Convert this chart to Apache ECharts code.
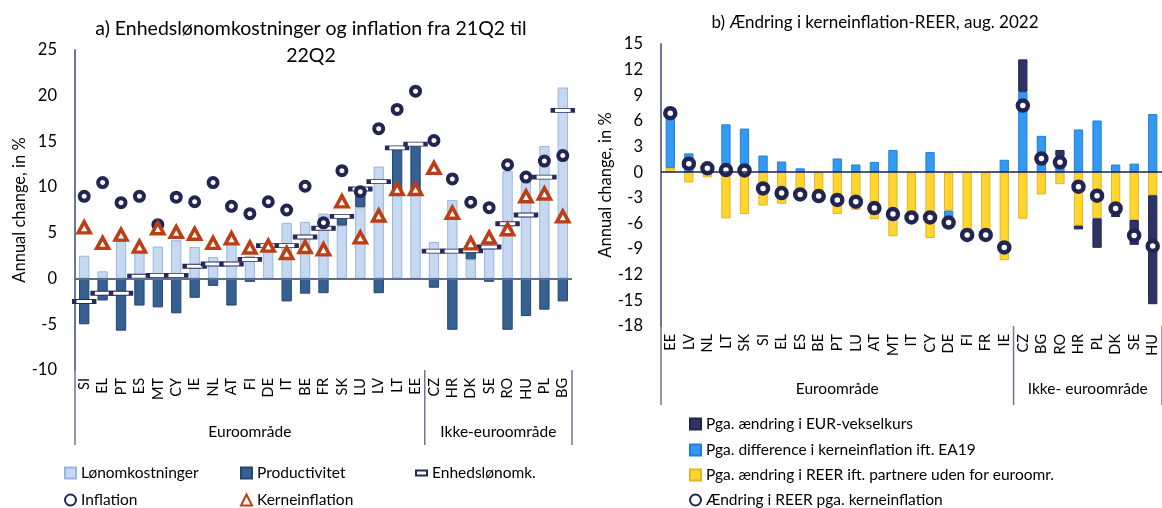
<!DOCTYPE html>
<html>
<head>
<meta charset="utf-8">
<script src="https://cdn.jsdelivr.net/npm/echarts@6/dist/echarts.min.js"></script>
<style>
  html, body { margin: 0; padding: 0; background: #fff; }
  #chart { width: 1162px; height: 508px; }
</style>
</head>
<body>
<div id="chart"></div>
<script>
// a) Enhedslønomkostninger og inflation
const landeA = ['SI','EL','PT','ES','MT','CY','IE','NL','AT','FI','DE','IT','BE','FR','SK','LU','LV','LT','EE','CZ','HR','DK','SE','RO','HU','PL','BG'];
const loen   = [2.5, 0.8, 4.1, 3.2, 3.5, 4.2, 3.45, 2.35, 4.55, 2.45, 3.7, 6.1, 6.2, 7.1, 5.8, 7.8, 12.25, 9.5, 9.5, 4.0, 8.6, 2.1, 3.8, 11.75, 11.05, 14.5, 20.9];
const prod   = [-5.0, -2.4, -5.7, -2.95, -3.15, -3.8, -2.1, -0.8, -2.95, -0.36, -0.1, -2.5, -1.65, -1.6, 1.0, 2.0, -1.6, 4.8, 5.2, -1.0, -5.6, 0.9, -0.35, -5.6, -4.1, -3.4, -2.5];
const enheds = [-2.5, -1.6, -1.6, 0.25, 0.35, 0.35, 1.35, 1.6, 1.6, 2.1, 3.6, 3.6, 4.55, 5.5, 6.8, 9.8, 10.6, 14.3, 14.7, 3.0, 3.0, 3.05, 3.45, 6.0, 6.95, 11.1, 18.4];
const infl   = [9.0, 10.5, 8.3, 9.0, 5.9, 8.9, 8.4, 10.5, 7.9, 7.1, 8.4, 7.5, 10.1, 6.1, 11.8, 9.5, 16.4, 18.5, 20.5, 15.1, 10.9, 8.35, 7.75, 12.45, 11.1, 12.85, 13.45];
const kerne  = [5.6, 3.9, 4.8, 3.5, 5.5, 5.1, 4.9, 3.9, 4.4, 3.4, 3.6, 2.8, 3.45, 3.2, 8.45, 4.5, 6.9, 9.8, 9.8, 12.1, 7.2, 3.85, 4.5, 5.4, 9.0, 9.3, 6.8];
const antalEuroA = 19;

// b) Ændring i kerneinflation-REER
const landeB = ['EE','LV','NL','LT','SK','SI','EL','ES','BE','PT','LU','AT','MT','IT','CY','DE','FI','FR','IE','CZ','BG','RO','HR','PL','DK','SE','HU'];
const reer   = [0.5, -1.2, -0.6, -5.4, -4.9, -3.9, -3.7, -3.1, -2.8, -4.9, -4.4, -5.5, -7.5, -5.3, -7.7, -4.5, -7.35, -7.35, -10.3, -5.45, -2.6, -1.4, -6.25, -5.4, -4.95, -5.6, -2.7];
const kerneDiff = [6.4, 2.2, 1.0, 5.6, 5.1, 1.95, 1.25, 0.45, null, 1.6, 0.9, 1.2, 2.6, null, 2.35, -1.4, null, null, 1.45, 9.4, 4.25, 1.9, 5.0, 6.05, 0.9, 1.0, 6.8];
const eurKurs = [null, null, null, null, null, null, null, null, null, null, null, null, null, null, null, null, null, null, null, 3.8, null, 0.7, -0.45, -3.45, -0.3, -2.9, -12.75];
const reerTotal = [6.9, 1.0, 0.45, 0.25, 0.2, -1.9, -2.45, -2.6, -2.8, -3.25, -3.45, -4.2, -4.9, -5.3, -5.3, -5.9, -7.35, -7.35, -8.8, 7.8, 1.6, 1.15, -1.7, -2.75, -4.25, -7.4, -8.65];
const antalEuroB = 19;

const font = 'Lato';
const chart = echarts.init(document.getElementById('chart'));

function legendItem(name, left, top, extra) {
  return Object.assign({
    data: [name], left: left, top: top, padding: 0,
    itemWidth: 11, itemHeight: 11, itemGap: 4,
    selectedMode: false,
    textStyle: { fontSize: 15.5, color: '#000', fontFamily: font }
  }, extra || {});
}

const option = {
  animation: false,
  textStyle: { fontFamily: font },
  title: [
    { text: 'a) Enhedslønomkostninger og inflation fra 21Q2 til\n22Q2', left: 306, top: 10, textAlign: 'center',
      textStyle: { fontSize: 19.5, fontWeight: 'normal', color: '#000', fontFamily: font, lineHeight: 27 } },
    { text: 'b) Ændring i kerneinflation-REER, aug. 2022', left: 870, top: 9, textAlign: 'center',
      textStyle: { fontSize: 17, fontWeight: 'normal', color: '#000', fontFamily: font } }
  ],
  grid: [
    { left: 75, top: 50, width: 497, height: 320 },
    { left: 661, top: 44, width: 504, height: 282 }
  ],
  xAxis: [
    { gridIndex: 0, type: 'category', data: landeA, axisLine: { show: false }, axisTick: { show: false },
      axisLabel: { rotate: 90, interval: 0, fontSize: 14.5, color: '#000', margin: 8 } },
    { gridIndex: 1, type: 'category', data: landeB, axisLine: { show: false }, axisTick: { show: false },
      axisLabel: { rotate: 90, interval: 0, fontSize: 14.5, color: '#000', margin: 8 } }
  ],
  yAxis: [
    { gridIndex: 0, type: 'value', min: -10, max: 25, interval: 5,
      axisLine: { show: true, lineStyle: { color: '#6f7596', width: 2 } }, axisTick: { show: false }, splitLine: { show: false },
      axisLabel: { fontSize: 16.5, color: '#000', margin: 18 },
      name: 'Annual change, in %', nameLocation: 'middle', nameGap: 46, nameTextStyle: { fontSize: 16.5, color: '#000' } },
    { gridIndex: 1, type: 'value', min: -18, max: 15, interval: 3,
      axisLine: { show: true, lineStyle: { color: '#6f7596', width: 2 } }, axisTick: { show: false }, splitLine: { show: false },
      axisLabel: { fontSize: 16.5, color: '#000', margin: 18 },
      name: 'Annual change, in %', nameLocation: 'middle', nameGap: 40, nameTextStyle: { fontSize: 16.5, color: '#000' } }
  ],
  legend: [
    legendItem('Lønomkostninger', 64, 465, { icon: 'rect' }),
    legendItem('Productivitet', 240, 465, { icon: 'rect' }),
    legendItem('Enhedslønomk.', 415, 465, { itemHeight: 5 }),
    legendItem('Inflation', 64, 492),
    legendItem('Kerneinflation', 240, 492),
    legendItem('Pga. ændring i EUR-vekselkurs', 689, 416, { icon: 'rect' }),
    legendItem('Pga. difference i kerneinflation ift. EA19', 689, 442, { icon: 'rect' }),
    legendItem('Pga. ændring i REER ift. partnere uden for euroomr.', 689, 467, { icon: 'rect' }),
    legendItem('Ændring i REER pga. kerneinflation', 689, 492)
  ],
  series: [
    { name: 'Lønomkostninger', type: 'bar', xAxisIndex: 0, yAxisIndex: 0, stack: 'a', data: loen, barWidth: '56%',
      itemStyle: { color: '#c6d9f1', borderColor: '#95b7e0', borderWidth: 1 },
      markLine: { silent: true, symbol: 'none', label: { show: false }, lineStyle: { color: '#57708f', width: 2, type: 'solid' }, data: [{ yAxis: 0 }] } },
    { name: 'Productivitet', type: 'bar', xAxisIndex: 0, yAxisIndex: 0, stack: 'a', data: prod, barWidth: '56%',
      itemStyle: { color: '#366092', borderColor: '#25456e', borderWidth: 1 } },
    { name: 'Enhedslønomk.', type: 'scatter', xAxisIndex: 0, yAxisIndex: 0, data: enheds, symbol: 'rect', symbolSize: [20, 4], z: 3,
      itemStyle: { color: '#fff', borderColor: '#24285a', borderWidth: 2, opacity: 1 } },
    { name: 'Inflation', type: 'scatter', xAxisIndex: 0, yAxisIndex: 0, data: infl, symbol: 'circle', symbolSize: 9, z: 4,
      itemStyle: { color: '#fff', borderColor: '#222552', borderWidth: 4, opacity: 1 } },
    { name: 'Kerneinflation', type: 'scatter', xAxisIndex: 0, yAxisIndex: 0, data: kerne, symbol: 'triangle', symbolSize: [12, 11], z: 4,
      itemStyle: { color: '#fff', borderColor: '#bd3d15', borderWidth: 3.5, opacity: 1 } },

    { name: 'Pga. ændring i REER ift. partnere uden for euroomr.', type: 'bar', xAxisIndex: 1, yAxisIndex: 1, stack: 'b', data: reer, barWidth: '50%',
      itemStyle: { color: '#ffd52e', borderColor: '#e3b520', borderWidth: 1 },
      markLine: { silent: true, symbol: 'none', label: { show: false }, lineStyle: { color: '#1c1f4a', width: 1.5, type: 'solid' }, data: [{ yAxis: 0 }] } },
    { name: 'Pga. difference i kerneinflation ift. EA19', type: 'bar', xAxisIndex: 1, yAxisIndex: 1, stack: 'b', data: kerneDiff, barWidth: '50%',
      itemStyle: { color: '#3399f3', borderColor: '#1f7fd6', borderWidth: 1 } },
    { name: 'Pga. ændring i EUR-vekselkurs', type: 'bar', xAxisIndex: 1, yAxisIndex: 1, stack: 'b', data: eurKurs, barWidth: '50%',
      itemStyle: { color: '#2e3366', borderColor: '#22264f', borderWidth: 1 } },
    { name: 'Ændring i REER pga. kerneinflation', type: 'scatter', xAxisIndex: 1, yAxisIndex: 1, data: reerTotal, symbol: 'circle', symbolSize: 10, z: 4,
      itemStyle: { color: '#fff', borderColor: '#222552', borderWidth: 4.5, opacity: 1 } }
  ]
};
chart.setOption(option);

// gruppe-etiketter og skillelinjer under akserne
function groupGraphics(axisIdx, lande, antalEuro, lineLen, labelOffset, names) {
  const xOf = i => chart.convertToPixel({ xAxisIndex: axisIdx }, lande[i]);
  const band = xOf(1) - xOf(0);
  const yMin = chart.convertToPixel({ yAxisIndex: axisIdx }, axisIdx === 0 ? -10 : -18);
  const x0 = xOf(0) - band / 2;
  const xSep = xOf(antalEuro - 1) + band / 2;
  const xEnd = xOf(lande.length - 1) + band / 2;
  const line = x => ({ type: 'line', shape: { x1: x, y1: yMin, x2: x, y2: yMin + lineLen }, style: { stroke: '#6f7596', lineWidth: 1.5 } });
  const txt = (x, t) => ({ type: 'text', x: x, y: yMin + labelOffset,
    style: { text: t, fill: '#000', font: '15.5px ' + font, textAlign: 'center', textVerticalAlign: 'middle' } });
  return [line(x0), line(xSep), line(xEnd), txt((x0 + xSep) / 2, names[0]), txt((xSep + xEnd) / 2, names[1])];
}

chart.setOption({
  graphic: [].concat(
    groupGraphics(0, landeA, antalEuroA, 75, 62, ['Euroområde', 'Ikke-euroområde']),
    groupGraphics(1, landeB, antalEuroB, 79, 63, ['Euroområde', 'Ikke- euroområde'])
  )
});
</script>
</body>
</html>
